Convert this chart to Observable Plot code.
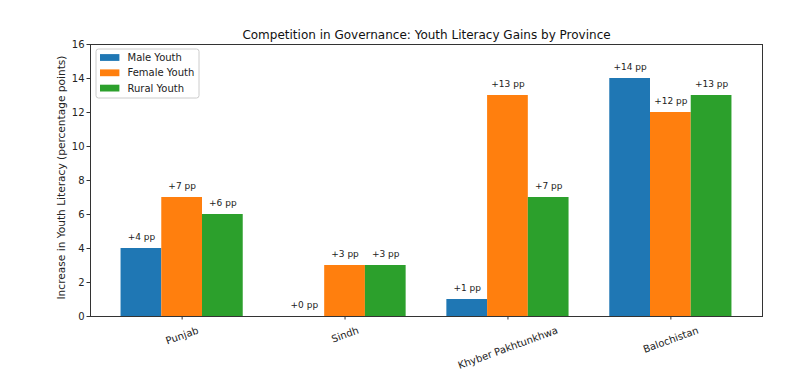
<!DOCTYPE html>
<html><head><meta charset="utf-8">
<script src="https://cdn.jsdelivr.net/npm/d3@7"></script>
<script src="https://cdn.jsdelivr.net/npm/@observablehq/plot@0.6"></script>
<style>body{margin:0;background:#fff;} svg{display:block;}</style>
</head><body><div id="chart"></div>
<script>
const provinces = ["Punjab", "Sindh", "Khyber Pakhtunkhwa", "Balochistan"];
const seriesNames = ["Male Youth", "Female Youth", "Rural Youth"];
const maleValues = [4, 0, 1, 14];
const femaleValues = [7, 3, 13, 12];
const ruralValues = [6, 3, 7, 13];
const yTicks = [0, 2, 4, 6, 8, 10, 12, 14, 16];
const colors = ["#1f77b4", "#ff7f0e", "#2ca02c"];
const title = "Competition in Governance: Youth Literacy Gains by Province";
const yLabel = "Increase in Youth Literacy (percentage points)";

const seriesValues = [maleValues, femaleValues, ruralValues];
const barWidth = 0.25;
const rows = [];
seriesValues.forEach((vals, s) => vals.forEach((v, i) => rows.push({
  i, series: seriesNames[s], value: v, xc: i + (s - 1) * barWidth
})));

const FONT = "DejaVu Sans, sans-serif";
const tickFont = 10;
const ctx = document.createElement("canvas").getContext("2d");
ctx.font = `${tickFont}px "DejaVu Sans"`;
const rot = 20 * Math.PI / 180;
const tickLabelMarks = provinces.map((p, i) => {
  const w = ctx.measureText(p).width;
  const h = tickFont * 1.17;
  const dy = 8 + (w * Math.sin(rot) + h * Math.cos(rot)) / 2;
  return Plot.text([p], {x: [i], y: [0], text: d => d, rotate: -20, dy, fontSize: tickFont, fill: "#222"});
});

const plot = Plot.plot({
  width: 800, height: 373,
  marginLeft: 90, marginRight: 38, marginTop: 44, marginBottom: 57,
  style: {fontFamily: FONT, fontSize: tickFont + "px", color: "#222", background: "#fff"},
  x: {type: "linear", domain: [-0.5625, 3.5625]},
  y: {domain: [0, 16]},
  color: {domain: seriesNames, range: colors},
  marks: [
    Plot.rect(rows, {x1: d => d.xc - barWidth / 2, x2: d => d.xc + barWidth / 2, y1: 0, y2: "value", fill: "series"}),
    Plot.text(rows, {x: "xc", y: "value", text: d => `+${d.value} pp`, dy: -11, fontSize: 9, fill: "#222"}),
    Plot.axisY({ticks: yTicks, tickSize: 3.5, tickPadding: 2.5, fontSize: tickFont, label: null, stroke: "#333"}),
    Plot.axisX({ticks: [0, 1, 2, 3], tickSize: 3.5, tickFormat: () => "", label: null, stroke: "#333"}),
    ...tickLabelMarks,
    Plot.frame({stroke: "#333", strokeWidth: 1}),
    Plot.text([title], {frameAnchor: "top", lineAnchor: "middle", dy: -9, fontSize: 12, fill: "#111"}),
    Plot.text([yLabel], {frameAnchor: "left", textAnchor: "middle", lineAnchor: "middle", dx: -29, dy: -3, rotate: -90, fontSize: 10.6, fill: "#222"})
  ]
});

// legend (upper left, matplotlib style)
const svg = d3.select(plot);
const lg = svg.append("g").attr("font-family", FONT).attr("font-size", tickFont).attr("text-anchor", "start");
lg.append("rect").attr("x", 96).attr("y", 49).attr("width", 103).attr("height", 49)
  .attr("rx", 2.5).attr("fill", "#fff").attr("fill-opacity", 0.8).attr("stroke", "#ccc");
seriesNames.forEach((name, k) => {
  const cy = 57.5 + k * 15.3;
  lg.append("rect").attr("x", 100).attr("y", cy - 3.4).attr("width", 19.4).attr("height", 6.8).attr("fill", colors[k]);
  lg.append("text").attr("x", 127.5).attr("y", cy).attr("dy", "0.35em").attr("fill", "#222").text(name);
});

document.getElementById("chart").appendChild(plot);
</script>
</body></html>
